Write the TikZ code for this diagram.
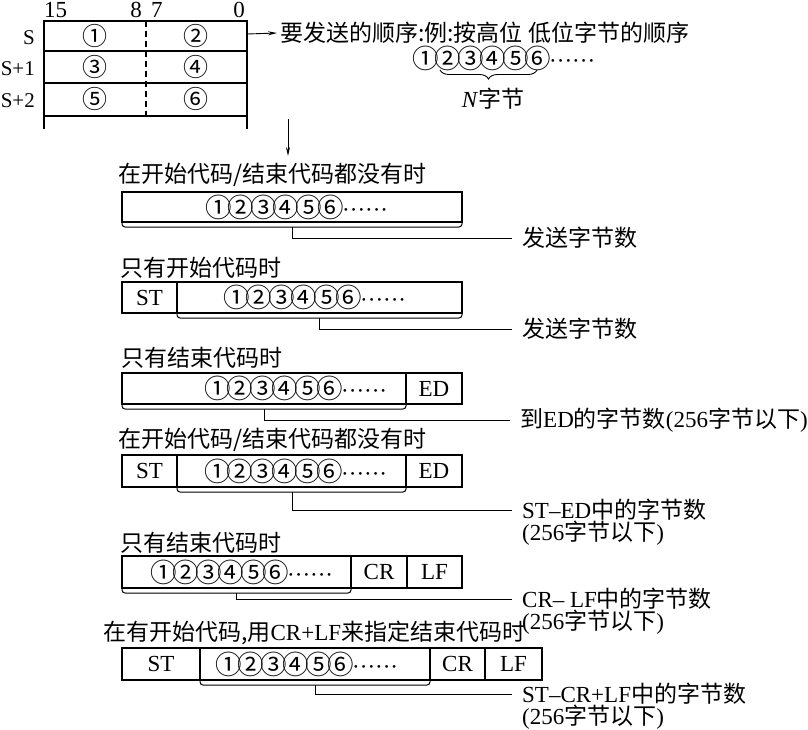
\documentclass[tikz,border=0pt]{standalone}
\usepackage{fontspec}
\setmainfont{Liberation Serif}
\newfontfamily\cjk{Noto Sans CJK SC}
\newcommand{\zh}[1]{{\cjk #1}}
\newcommand{\cd}[1]{\makebox[22.5pt]{\fontsize{26.5}{27}\selectfont\cjk #1}}
\newcommand{\byteseq}{\cd{①}\cd{②}\cd{③}\cd{④}\cd{⑤}\cd{⑥}······}
\usetikzlibrary{arrows.meta,decorations.pathreplacing}

\begin{document}
\begin{tikzpicture}[x=1pt,y=-1pt,
    every node/.style={font=\fontsize{23}{27}\selectfont,inner sep=2pt},
    box/.style={line width=1.4pt},
    lead/.style={line width=0.9pt},
    bracket/.style={line width=1pt,rounded corners=3pt},
    digits/.style={anchor=west,inner sep=0pt},
    rowtitle/.style={anchor=west,inner sep=0pt},
    lab/.style={anchor=west,inner xsep=10pt,inner ysep=0pt}]
    \useasboundingbox (0,0) rectangle (808,729);

    % Palabras de memoria
    \draw[box] (44,129) -- (44,21) -- (247,21) -- (247,129);
    \foreach \y in {51,83,116}
      \draw[box] (44,\y) -- (247,\y);
    \draw[box,dash pattern=on 6pt off 4pt] (146,21) -- (146,116);
    \node[anchor=base west,inner sep=0pt] (b15) at (44,17) {15};
    \node[anchor=base east,inner sep=0pt] (b8) at (142,17) {8};
    \node[anchor=base west,inner sep=0pt] (b7) at (151,17) {7};
    \node[anchor=base east,inner sep=0pt] (b0) at (245,17) {0};
    \foreach \i\y\s\a\b in {
        1/36/S/①/②,
        2/67/S+1/③/④,
        3/99/S+2/⑤/⑥}{
      \node[anchor=east,inner sep=0pt,font=\fontsize{21}{25}\selectfont] (s\i) at (35,\y+2) {\s};
      \node[font=\fontsize{25}{27}\selectfont\cjk] (hi\i) at (95,\y) {\a};
      \node[font=\fontsize{25}{27}\selectfont\cjk] (lo\i) at (196,\y) {\b};
    }

    \coordinate (wS) at (247,34);
    \node[anchor=west,inner sep=3pt] (order) at (277,33) {\zh{要发送的顺序:例:按高位 低位字节的顺序}};
    \draw[lead,-{Stealth[length=9pt,width=4pt]}] (wS) -- (order.west);
    \node[digits] (seq) at (414,58) {\byteseq};
    \draw[lead,decorate,decoration={brace,mirror,amplitude=9pt}] (440,70) -- (537,70);
    \node (nb) at (493,99) {\textit{N}\zh{字节}};

    \coordinate (dn) at (288,119);
    \coordinate (dn2) at (288,156);
    \draw[lead,-{Stealth[length=9pt,width=4pt]}] (dn) -- (dn2);

    % Caso 1
    \node[rowtitle] (t1) at (118,175) {\zh{在开始代码/结束代码都没有时}};
    \draw[box] (122,192) rectangle node (c1) {} (462,222);
    \node[digits] (d1) at (207,207) {\byteseq};
    \draw[bracket] (122,222) -- (122,227) -- (462,227) -- (462,222);
    \coordinate (k1) at (292,227);
    \node[lab] (l1) at (512,238) {\zh{发送字节数}};
    \draw[lead] (k1) |- (l1.west);

    % Caso 2
    \node[rowtitle] (t2) at (120,268) {\zh{只有开始代码时}};
    \foreach \a\b\t in {122/177/ST, 177/462/{}}
      \draw[box] (\a,282) rectangle node (c2-\a) {\t} (\b,313);
    \node[digits] (d2) at (225,297) {\byteseq};
    \draw[bracket] (177,313) -- (177,318) -- (462,318) -- (462,313);
    \coordinate (k2) at (319,318);
    \node[lab] (l2) at (512,329) {\zh{发送字节数}};
    \draw[lead] (k2) |- (l2.west);

    % Caso 3
    \node[rowtitle] (t3) at (121,358) {\zh{只有结束代码时}};
    \foreach \a\b\t in {122/406/{}, 406/462/ED}
      \draw[box] (\a,373) rectangle node (c3-\a) {\t} (\b,404);
    \node[digits] (d3) at (206,388) {\byteseq};
    \draw[bracket] (122,404) -- (122,409) -- (406,409) -- (406,404);
    \coordinate (k3) at (264,409);
    \node[lab] (l3) at (510,420) {\zh{到}ED\zh{的字节数}(256\zh{字节以下})};
    \draw[lead] (k3) |- (l3.west);

    % Caso 4
    \node[rowtitle] (t4) at (118,440) {\zh{在开始代码/结束代码都没有时}};
    \foreach \a\b\t in {122/177/ST, 177/406/{}, 406/462/ED}
      \draw[box] (\a,455) rectangle node (c4-\a) {\t} (\b,487);
    \node[digits] (d4) at (206,471) {\byteseq};
    \draw[bracket] (177,487) -- (177,492) -- (406,492) -- (406,487);
    \coordinate (k4) at (292,492);
    \node[lab] (l4) at (512,510) {ST–ED\zh{中的字节数}};
    \node[lab,anchor=north west] (l4b) at (l4.south west) {(256\zh{字节以下})};
    \draw[lead] (k4) |- (l4.west);

    % Caso 5
    \node[rowtitle] (t5) at (120,543) {\zh{只有结束代码时}};
    \foreach \a\b\t in {122/351/{}, 351/407/CR, 407/462/LF}
      \draw[box] (\a,556) rectangle node (c5-\a) {\t} (\b,588);
    \node[digits] (d5) at (152,572) {\byteseq};
    \draw[bracket] (122,588) -- (122,593) -- (351,593) -- (351,588);
    \coordinate (k5) at (236,593);
    \node[lab] (l5) at (512,599) {CR– LF\zh{中的字节数}};
    \node[lab,anchor=north west] (l5b) at (l5.south west) {(256\zh{字节以下})};
    \draw[lead] (k5) |- (l5.west);

    % Caso 6
    \node[rowtitle] (t6) at (103,633) {\zh{在有开始代码,用}CR+LF\zh{来指定结束代码时}};
    \foreach \a\b\t in {122/200/ST, 200/430/{}, 430/485/CR, 485/542/LF}
      \draw[box] (\a,648) rectangle node (c6-\a) {\t} (\b,680);
    \node[digits] (d6) at (217,664) {\byteseq};
    \draw[bracket] (200,680) -- (200,685) -- (430,685) -- (430,680);
    \coordinate (k6) at (315,685);
    \node[lab] (l6) at (512,694) {ST–CR+LF\zh{中的字节数}};
    \node[lab,anchor=north west] (l6b) at (l6.south west) {(256\zh{字节以下})};
    \draw[lead] (k6) |- (l6.west);

  \end{tikzpicture}
\end{document}
